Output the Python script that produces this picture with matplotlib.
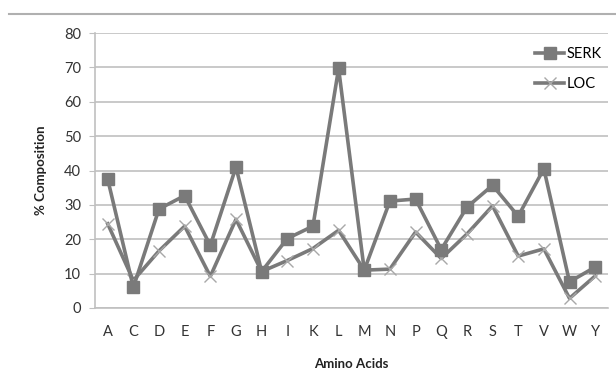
import matplotlib
matplotlib.use("Agg")
import matplotlib.pyplot as plt
from matplotlib.lines import Line2D

plt.rcParams['font.family'] = ['Lato', 'DejaVu Sans']

acids = ["A", "C", "D", "E", "F", "G", "H", "I", "K", "L",
         "M", "N", "P", "Q", "R", "S", "T", "V", "W", "Y"]
serk = [37.5, 6, 28.8, 32.7, 18.2, 41, 10.6, 20.2, 23.8, 69.7,
        11, 31.1, 31.7, 17, 29.3, 35.7, 26.7, 40.5, 7.6, 11.9]
loc = [24.5, 8, 16.6, 23.8, 9.2, 25.8, 10.6, 13.8, 17.3, 22.6,
       11, 11.3, 22.1, 14.4, 21.5, 29.7, 15.1, 17.2, 2.8, 9.3]

gray = "#7a7a7a"
grid = "#c0c0c0"

fig = plt.figure(figsize=(6.16, 3.76), dpi=100)
ax = fig.add_axes([0.154, 0.181, 0.833, 0.731])

x = list(range(len(acids)))
ax.plot(x, serk, color=gray, lw=2.6, marker="s", ms=8, label="SERK", zorder=3)
ax.plot(x, loc, color=gray, lw=2.6, marker="x", ms=9, mew=1.0,
        markeredgecolor="#a8a8a8", label="LOC", zorder=2)

ax.set_ylim(0, 80)
ax.set_yticks(range(0, 81, 10))
ax.set_xlim(-0.5, len(acids) - 0.5)
ax.set_xticks(x)
ax.set_xticklabels(acids)
ax.yaxis.grid(True, color=grid, lw=1.2)
ax.set_axisbelow(True)
for s in ["top", "right"]:
    ax.spines[s].set_visible(False)
for s in ["left", "bottom"]:
    ax.spines[s].set_color(grid)
    ax.spines[s].set_linewidth(1.2)
ax.tick_params(axis="y", length=4, color=grid, labelsize=10.5, labelcolor="#333333", pad=6)
ax.tick_params(axis="x", length=0, labelsize=10.5, labelcolor="#333333", pad=12)

ax.set_ylabel("% Composition", fontsize=9.5, fontweight="bold", color="#222222", labelpad=12)
ax.set_xlabel("Amino Acids", fontsize=9.5, fontweight="bold", color="#222222", labelpad=14)

ax.legend(loc="upper right", bbox_to_anchor=(1.0, 0.97), frameon=False, fontsize=10.5,
          handlelength=2.0, labelspacing=1.1, handletextpad=0.2, borderaxespad=0)

fig.add_artist(Line2D([0.015, 1.0], [0.962, 0.962], color="#b0b0b0", lw=1.5,
                      transform=fig.transFigure))

fig.savefig("out.png", dpi=100)
